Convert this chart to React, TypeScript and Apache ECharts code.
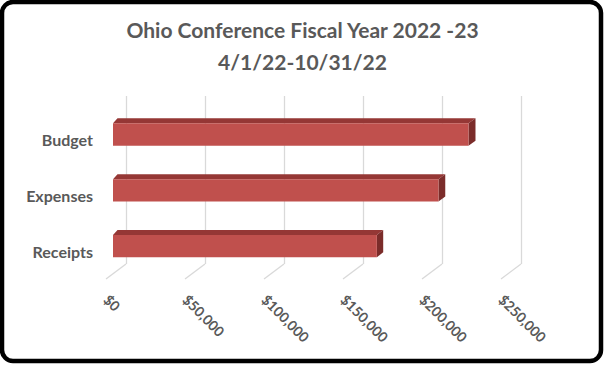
import React, { useEffect, useRef } from "react";
import * as echarts from "echarts";

const titleLines = ["Ohio Conference Fiscal Year 2022 -23", "4/1/22-10/31/22"];
const categories = ["Budget", "Expenses", "Receipts"];
const amounts = [225000, 206000, 167000];
const tickValues = [0, 50000, 100000, 150000, 200000, 250000];
const axisMax = 250000;
const axisStep = 50000;

const FONT = "Lato, 'Noto Sans', sans-serif";
const TEXT = "#595959";

export default function App() {
  const ref = useRef<HTMLDivElement>(null);
  useEffect(() => {
    if (!ref.current) return;
    const chart = echarts.init(ref.current, null, { renderer: "svg" });
    const fmt = (v: number) => "$" + v.toLocaleString("en-US");
    const barData = categories.map((c, i) => [amounts[i], c]);
    chart.setOption({
      animation: false,
      backgroundColor: "#ffffff",
      title: {
        text: titleLines.join("\n"),
        left: "center",
        top: 13,
        padding: 0,
        textStyle: {
          fontFamily: FONT,
          fontWeight: "bold",
          fontSize: 21,
          color: TEXT,
          lineHeight: 32,
        },
      },
      graphic: [
        {
          type: "rect",
          shape: { x: 2, y: 2, width: 599, height: 359, r: 11 },
          style: { fill: "none", stroke: "#000", lineWidth: 4.5 },
          z: 100,
        },
      ],
      grid: [
        { left: 126, top: 96, width: 395, height: 168 },
        { left: 113, top: 106.6, width: 395, height: 167.4 },
        { left: 106.5, top: 200, width: 395, height: 89 },
        { left: 113, top: 111.6, width: 395, height: 167.4 },
      ],
      xAxis: [
        {
          gridIndex: 0,
          type: "value",
          min: 0,
          max: axisMax,
          interval: axisStep,
          axisLine: { show: false },
          axisTick: { show: false },
          axisLabel: { show: false },
          splitLine: { show: true, lineStyle: { color: "#d9d9d9", width: 1.3 } },
        },
        { gridIndex: 1, type: "value", min: 0, max: axisMax, interval: axisStep, show: false },
        {
          gridIndex: 2,
          type: "value",
          min: 0,
          max: axisMax,
          interval: axisStep,
          axisLine: { show: false },
          axisTick: { show: false },
          splitLine: { show: false },
          axisLabel: {
            rotate: -45,
            margin: 8,
            color: TEXT,
            fontFamily: FONT,
            fontWeight: "bold",
            fontSize: 14,
            formatter: fmt,
          },
        },
        { gridIndex: 3, type: "value", min: 0, max: axisMax, interval: axisStep, show: false },
      ],
      yAxis: [
        { gridIndex: 0, type: "value", min: 0, max: 1, show: false },
        {
          gridIndex: 1,
          type: "category",
          data: categories,
          inverse: true,
          show: false,
        },
        { gridIndex: 2, type: "value", min: 0, max: 1, show: false },
        {
          gridIndex: 3,
          type: "category",
          data: categories,
          inverse: true,
          axisLine: { show: false },
          axisTick: { show: false },
          splitLine: { show: false },
          axisLabel: {
            margin: 20,
            color: TEXT,
            fontFamily: FONT,
            fontWeight: "bold",
            fontSize: 16,
          },
        },
      ],
      series: [
        {
          type: "custom",
          xAxisIndex: 0,
          yAxisIndex: 0,
          data: tickValues.map((v) => [v]),
          encode: { x: 0 },
          silent: true,
          renderItem: (params: any, api: any) => {
            const p = api.coord([api.value(0), 0]);
            return {
              type: "line",
              shape: { x1: p[0], y1: p[1], x2: p[0] - 20, y2: p[1] + 15 },
              style: { stroke: "#d9d9d9", lineWidth: 1.3 },
            };
          },
        },
        {
          type: "custom",
          xAxisIndex: 1,
          yAxisIndex: 1,
          data: barData,
          encode: { x: 0, y: 1 },
          renderItem: (params: any, api: any) => {
            const v = api.value(0);
            const cat = api.value(1);
            const s = api.coord([0, cat]);
            const e = api.coord([v, cat]);
            const h = api.size([0, 1])[1] * 0.4;
            const x0 = s[0];
            const x1 = e[0];
            const y0 = s[1] - h / 2;
            const y1 = s[1] + h / 2;
            const dxL = 4.5;
            const dxR = 4.5 + (x1 - x0) * 0.007;
            const dy = 5;
            return {
              type: "group",
              children: [
                {
                  type: "polygon",
                  shape: {
                    points: [
                      [x0, y0],
                      [x0 + dxL, y0 - dy],
                      [x1 + dxR, y0 - dy],
                      [x1, y0],
                    ],
                  },
                  style: { fill: "#953735" },
                },
                {
                  type: "polygon",
                  shape: {
                    points: [
                      [x1, y0],
                      [x1 + dxR, y0 - dy],
                      [x1 + dxR, y1 - dy],
                      [x1, y1],
                    ],
                  },
                  style: { fill: "#7b2c2a" },
                },
                {
                  type: "rect",
                  shape: { x: x0, y: y0, width: x1 - x0, height: h },
                  style: { fill: "#c0504d" },
                },
              ],
            };
          },
        },
      ],
    });
    return () => chart.dispose();
  }, []);
  return (
    <div
      ref={ref}
      style={{ position: "fixed", left: 0, top: 0, width: 605, height: 365 }}
    />
  );
}
